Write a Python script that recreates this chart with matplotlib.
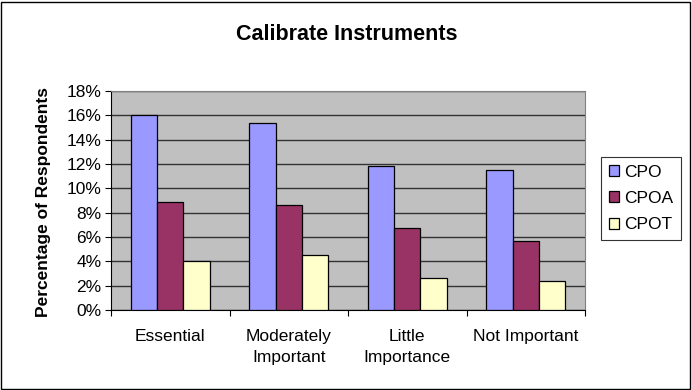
import matplotlib
matplotlib.use("Agg")
import matplotlib.pyplot as plt
import numpy as np
from matplotlib.ticker import FuncFormatter, MultipleLocator
from matplotlib.patches import Rectangle

plt.rcParams['font.family'] = ['Liberation Sans', 'DejaVu Sans']

categories = ["Essential", "Moderately\nImportant", "Little\nImportance", "Not Important"]
series_names = ["CPO", "CPOA", "CPOT"]
cpo = [16.0, 15.35, 11.8, 11.5]
cpoa = [8.9, 8.65, 6.7, 5.65]
cpot = [4.0, 4.5, 2.6, 2.4]
colors = ["#9999FF", "#993366", "#FFFFCC"]

FS = 12.5

fig = plt.figure(figsize=(6.92, 3.90), dpi=100)
fig.patch.set_facecolor("white")
fig.add_artist(Rectangle((0.002, 0.003), 0.995, 0.993, transform=fig.transFigure,
                         fill=False, edgecolor="black", linewidth=1.0))

ax = fig.add_axes([111/692, 1-310/390, (585-111)/692, (310-91)/390])
ax.set_facecolor("#C0C0C0")

x = np.arange(len(categories))
w = 0.222
for i, (vals, c, name) in enumerate(zip([cpo, cpoa, cpot], colors, series_names)):
    ax.bar(x + (i - 1) * w, vals, width=w, color=c, edgecolor="black", linewidth=0.9,
           label=name, zorder=3)

ax.set_xlim(-0.5, len(categories) - 0.5)
ax.set_ylim(0, 18)
ax.yaxis.set_major_locator(MultipleLocator(2))
ax.yaxis.set_major_formatter(FuncFormatter(lambda v, p: f"{v:.0f}%"))
ax.grid(axis="y", color="#333333", linewidth=1.0, zorder=1)
ax.set_axisbelow(True)

ax.set_xticks(np.arange(len(categories) + 1) - 0.5, minor=False)
ax.set_xticklabels([])
ax.set_xticks(x, minor=True)
ax.set_xticklabels(categories, minor=True, fontsize=FS, linespacing=1.5)
ax.tick_params(axis="x", which="minor", length=0, pad=14)
ax.tick_params(axis="x", which="major", length=4, direction="out", color="black")
ax.tick_params(axis="y", length=4, direction="out", labelsize=FS, pad=3)

for s in ["top", "right"]:
    ax.spines[s].set_color("#808080")
ax.spines["left"].set_color("black")
ax.spines["bottom"].set_color("black")

fig.text(44/692, 1-202/390, "Percentage of Respondents", rotation=90, ha="center",
         va="center", fontsize=FS, fontweight="bold")
fig.text(347/692, 1-34/390, "Calibrate Instruments", ha="center", va="center",
         fontsize=15.5, fontweight="bold")

leg = ax.legend(loc="upper left", bbox_to_anchor=(601/692, 1-157/390),
                bbox_transform=fig.transFigure, fontsize=FS, frameon=True,
                fancybox=False, edgecolor="black", handlelength=0.6, handleheight=0.6,
                handletextpad=0.3, labelspacing=0.65, borderpad=0.45, borderaxespad=0)
leg.get_frame().set_linewidth(0.8)

fig.savefig("out.png", dpi=100)
